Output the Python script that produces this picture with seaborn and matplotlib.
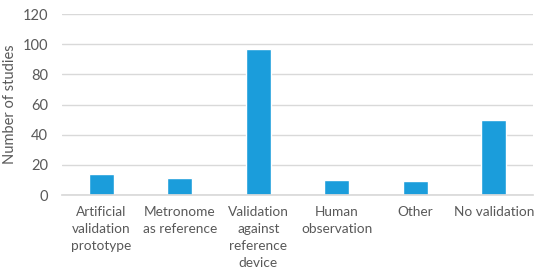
import matplotlib
matplotlib.use("Agg")
import matplotlib.pyplot as plt
import seaborn as sns
import pandas as pd

categories = ["Artificial\nvalidation\nprototype", "Metronome\nas reference",
              "Validation\nagainst\nreference\ndevice", "Human\nobservation",
              "Other", "No validation"]
values = [14, 11, 97, 10, 9, 50]
yticks = [0, 20, 40, 60, 80, 100, 120]

sns.set_theme(style="white")
plt.rcParams['font.family'] = ['Lato', 'DejaVu Sans']

df = pd.DataFrame({"cat": categories, "val": values})
fig = plt.figure(figsize=(5.5, 2.72), dpi=100)
ax = fig.add_axes([0.1127, 0.283, 0.8563, 0.6655])
sns.barplot(data=df, x="cat", y="val", color="#1B9DDB", width=0.32,
            saturation=1, ax=ax)
ax.set_ylim(0, 120)
ax.set_yticks(yticks)
ax.set_xlim(-0.5, len(categories) - 0.5)
ax.grid(axis="y", color="#D9D9D9", linewidth=1)
ax.set_axisbelow(True)
for s in ["top", "right", "left"]:
    ax.spines[s].set_visible(False)
ax.spines["bottom"].set_color("#D9D9D9")
ax.tick_params(axis="x", length=0, labelsize=9.8, colors="#595959", pad=8)
ax.tick_params(axis="y", length=0, labelsize=10.5, colors="#595959", pad=10)
for lbl in ax.get_xticklabels():
    lbl.set_linespacing(1.48)
ax.set_xlabel("")
ax.set_ylabel("Number of studies", fontsize=10.5, color="#595959")
ax.yaxis.set_label_coords(-0.096, 0.5)
fig.savefig("out.png", dpi=100)
